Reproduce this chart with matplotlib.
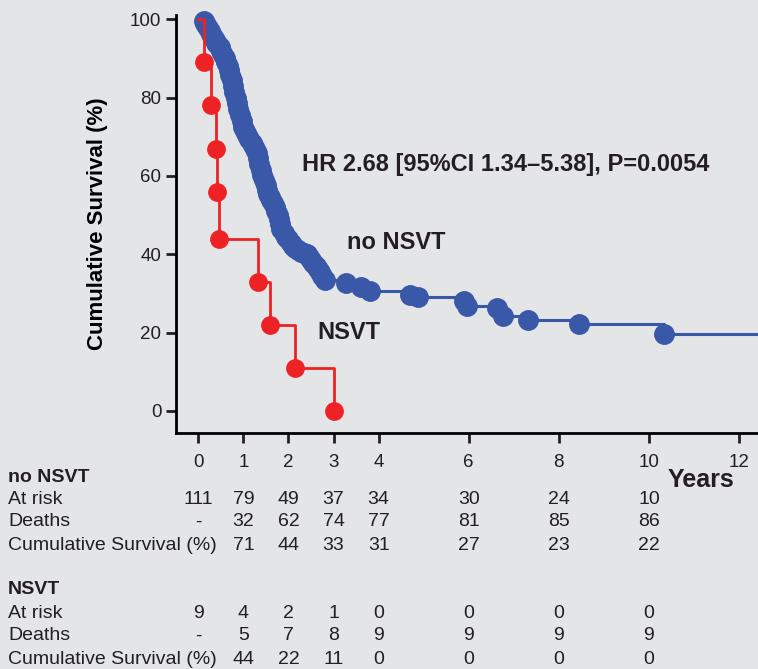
import matplotlib.pyplot as plt
import matplotlib.transforms as mtransforms

plt.rcParams['font.family'] = ['Liberation Sans', 'DejaVu Sans']

bg = '#e4e5e7'
blue = '#3a58a8'
red = '#ee2224'

# no NSVT: (years, survival %) at each event
nonsvt_t = [0.0, 0.12, 0.15, 0.17, 0.21, 0.25, 0.29, 0.32, 0.36, 0.40, 0.44, 0.47, 0.51, 0.55,
            0.58, 0.62, 0.65, 0.68, 0.71, 0.74, 0.77, 0.80, 0.83, 0.86, 0.89,
            0.92, 0.96, 1.00, 1.04, 1.08, 1.13, 1.18, 1.22, 1.26, 1.29, 1.32, 1.35, 1.38, 1.42,
            1.45, 1.49, 1.52, 1.55, 1.58, 1.62, 1.66, 1.70, 1.73,
            1.76, 1.78, 1.81, 1.84, 1.90, 1.95, 2.00, 2.05, 2.10, 2.15, 2.22, 2.28, 2.34, 2.40,
            2.45, 2.50, 2.55, 2.60, 2.65, 2.69, 2.75, 2.80, 3.28,
            3.62, 3.80, 4.69, 4.87, 5.90, 5.96, 6.63, 6.75, 7.31, 8.44, 10.33]
nonsvt_s = [100, 99.6, 99, 98.5, 97.8, 97, 96.2, 95.5, 94.8, 94, 93.5, 93, 92, 91,
            90, 89, 88, 87, 85.8, 84.5, 83, 81.5, 80, 78.5, 77,
            75.5, 74, 72.5, 71.5, 70.5, 69.5, 68.5, 67.8, 67, 65.8, 64.5, 63, 61.5, 60.2,
            59, 57.8, 56.5, 55.5, 54.5, 53.8, 53, 52, 51,
            50, 49, 47.8, 46.5, 45.5, 44.5, 43.8, 43, 42.2, 41.5, 41, 40.5, 40.2, 40,
            39.2, 38.5, 37.8, 37, 36.2, 35.5, 34.5, 33.5, 32.7,
            31.6, 30.7, 29.7, 29.1, 28.0, 26.7, 26.2, 24.2, 23.3, 22.2, 19.7]
nonsvt_end = 12.5

# NSVT
nsvt_t = [0.0, 0.13, 0.29, 0.40, 0.41, 0.45, 1.32, 1.58, 2.15, 3.02]
nsvt_s = [100, 89, 78, 67, 56, 44, 33, 22, 11, 0]

ticks_x = [0, 1, 2, 3, 4, 6, 8, 10, 12]
ticks_y = [0, 20, 40, 60, 80, 100]

table_x = [0, 1, 2, 3, 4, 6, 8, 10]
nonsvt_risk = ['111', '79', '49', '37', '34', '30', '24', '10']
nonsvt_deaths = ['-', '32', '62', '74', '77', '81', '85', '86']
nonsvt_cum = ['', '71', '44', '33', '31', '27', '23', '22']
nsvt_risk = ['9', '4', '2', '1', '0', '0', '0', '0']
nsvt_deaths = ['-', '5', '7', '8', '9', '9', '9', '9']
nsvt_cum = ['', '44', '22', '11', '0', '0', '0', '0']

fig = plt.figure(figsize=(7.58, 6.69), dpi=100, facecolor=bg)
ax = fig.add_axes([0.232, 0.353, 0.768, 0.624])
ax.set_facecolor(bg)

ax.step(nonsvt_t + [nonsvt_end], nonsvt_s + [nonsvt_s[-1]], where='post', color=blue, lw=2.2, clip_on=False)
ax.plot(nonsvt_t[1:], nonsvt_s[1:], 'o', color=blue, ms=14, mec=blue, clip_on=False)
ax.step(nsvt_t, nsvt_s, where='post', color=red, lw=2)
ax.plot(nsvt_t[1:], nsvt_s[1:], 'o', color=red, ms=12.5, clip_on=False)

ax.set_xlim(-0.5, 12.42)
ax.set_ylim(-5.6, 101)
for s in ['top', 'right']:
    ax.spines[s].set_visible(False)
for s in ['left', 'bottom']:
    ax.spines[s].set_linewidth(2)
ax.set_xticks(ticks_x)
ax.set_xticklabels([str(v) for v in ticks_x])
ax.set_yticks(ticks_y)
ax.tick_params(axis='both', width=2, length=7, labelsize=13.5, colors='#231f20')
ax.tick_params(axis='x', pad=8)
ax.set_ylabel('Cumulative Survival (%)', fontsize=16, fontweight='bold', labelpad=16)

bold = dict(fontsize=17, fontweight='bold', color='#231f20')
ax.text(2.3, 63, 'HR 2.68 [95%CI 1.34\u20135.38], P=0.0054', va='center', **bold)
ax.text(3.3, 43, 'no NSVT', va='center', **bold)
ax.text(2.65, 20, 'NSVT', va='center', **bold)
fig.text(668 / 758, 1 - 480 / 669, 'Years', va='center', fontsize=18, fontweight='bold', color='#231f20')

tr = mtransforms.blended_transform_factory(ax.transData, fig.transFigure)
rows = [(478, 'no NSVT', None), (500, 'At risk', nonsvt_risk), (522, 'Deaths', nonsvt_deaths),
        (546, 'Cumulative Survival (%)', nonsvt_cum), (590, 'NSVT', None),
        (613, 'At risk', nsvt_risk), (636, 'Deaths', nsvt_deaths), (660, 'Cumulative Survival (%)', nsvt_cum)]
for ypix, label, vals in rows:
    y = 1 - ypix / 669
    if vals is None:
        fig.text(8 / 758, y, label, va='center', fontsize=14, fontweight='bold', color='#231f20')
        continue
    fig.text(8 / 758, y, label, va='center', fontsize=14, color='#231f20')
    for xv, v in zip(table_x, vals):
        ax.text(xv, y, v, transform=tr, ha='center', va='center', fontsize=14, color='#231f20')

fig.savefig('out.png', dpi=100, facecolor=bg)
